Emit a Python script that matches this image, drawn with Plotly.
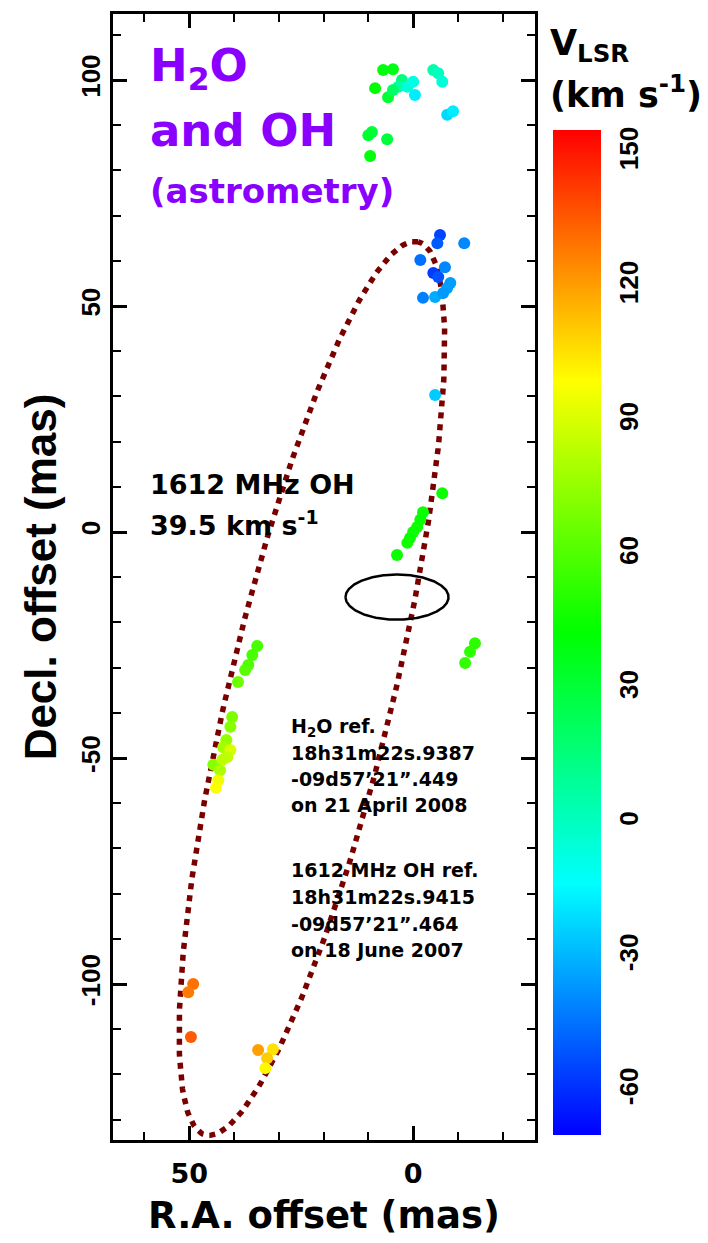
import numpy as np
import plotly.graph_objects as go

# ---------------- data ----------------
# R.A. offset (mas), Decl. offset (mas), V_LSR (km/s)
north_ra  = [6.7, 4.5, 8.5, 5.6, 2.5, 3.3, 1.3, 0.0, -0.4, 4.5, -4.5, -5.6, -6.5, -7.6, -8.9, 9.2, 10.0, 5.8, 9.6]
north_dec = [102.2, 102.4, 98.2, 96.2, 100.0, 98.5, 98.5, 99.6, 96.7, 97.8, 102.2, 101.5, 99.6, 92.3, 93.1, 88.5, 87.8, 86.9, 83.2]
north_v   = [40, 38, 42, 32, 15, 5, -5, -8, -18, 20, 5, 0, -5, -22, -18, 30, 32, 30, 40]

blue_ra  = [-6.0, -5.4, -11.4, -1.6, -7.1, -4.5, -5.6, -8.3, -7.6, -2.2, -4.9, -6.7, -4.9]
blue_dec = [65.7, 63.9, 63.9, 60.2, 58.6, 57.3, 56.4, 55.1, 54.0, 51.8, 52.0, 52.9, 30.3]
blue_v   = [-55, -50, -40, -45, -40, -57, -52, -35, -35, -42, -32, -36, -25]

mid_ra  = [-6.5, -2.2, -1.6, -0.9, 0.0, 0.7, 1.3, 3.6, -13.8, -12.7, -11.6]
mid_dec = [8.6, 4.4, 2.7, 1.1, 0.0, -1.3, -2.4, -5.1, -24.6, -26.5, -29.0]
mid_v   = [45, 45, 44, 46, 45, 44, 46, 45, 52, 52, 54]

sw_ra  = [34.8, 35.9, 36.8, 37.5, 39.1, 40.4, 40.8, 41.7, 42.4, 40.8, 41.5, 44.6, 43.1, 42.6, 43.5, 44.0]
sw_dec = [-25.2, -27.2, -29.4, -30.5, -33.2, -40.9, -43.1, -46.0, -47.6, -48.2, -49.8, -51.5, -52.7, -50.4, -54.9, -56.6]
sw_v   = [58, 58, 60, 62, 66, 70, 72, 75, 78, 90, 85, 72, 80, 84, 95, 98]

south_ra  = [49.1, 50.2, 49.6, 34.6, 31.3, 32.6, 33.0]
south_dec = [-100.0, -101.8, -111.7, -114.6, -114.4, -116.4, -118.6]
south_v   = [130, 128, 135, 120, 105, 110, 100]

# outer dotted ellipse: centre, semi-axes, position angle (deg)
ellipse_centre = [22.6, -34.6]
ellipse_axes = [101.6, 18.3]
ellipse_pa = -13.5
# beam ellipse: centre, half-widths
beam_centre = [3.6, -14.4]
beam_half = [11.5, 5.0]

x_range = [67.0, -27.2]
y_range = [-134.5, 114.6]
c_range = [-70, 155]
x_ticks = [50, 0]
x_ticklabels = ["50", "0"]
y_ticks = [-100, -50, 0, 50, 100]
y_ticklabels = ["-100", "-50", "0", "50", "100"]
cbar_ticks = [-60, -30, 0, 30, 60, 90, 120, 150]
cbar_ticklabels = ["-60", "-30", "0", "30", "60", "90", "120", "150"]

ref_lines = ["H<sub>2</sub>O ref.", "18h31m22s.9387", "-09d57\u201921\u201d.449", "on 21 April 2008",
             "1612 MHz OH ref.", "18h31m22s.9415", "-09d57\u201921\u201d.464", "on 18 June 2007"]

# ---------------- figure ----------------
W, H = 708, 1243
L, R, T, B = 113, 535, 14, 1140

def px(xp):
    return (xp - L) / (R - L)

def py(yp):
    return (B - yp) / (B - T)

ra = north_ra + blue_ra + mid_ra + sw_ra + south_ra
dec = north_dec + blue_dec + mid_dec + sw_dec + south_dec
vel = north_v + blue_v + mid_v + sw_v + south_v

cscale = [[0.0, "rgb(0,0,255)"], [0.25, "rgb(0,255,255)"], [0.5, "rgb(0,255,0)"],
          [0.75, "rgb(255,255,0)"], [1.0, "rgb(255,0,0)"]]

fig = go.Figure()

# dotted ellipse
t = np.linspace(0, 2 * np.pi, 400)
pa = np.deg2rad(ellipse_pa)
a, b = ellipse_axes
ex = ellipse_centre[0] + a * np.cos(t) * np.sin(pa) + b * np.sin(t) * np.cos(pa)
ey = ellipse_centre[1] + a * np.cos(t) * np.cos(pa) - b * np.sin(t) * np.sin(pa)
fig.add_trace(go.Scatter(x=ex, y=ey, mode="lines",
                         line=dict(color="#7a0000", width=5.5, dash="6px,6px"),
                         hoverinfo="skip", showlegend=False))

# beam ellipse
fig.add_trace(go.Scatter(
    x=beam_centre[0] + beam_half[0] * np.cos(t),
    y=beam_centre[1] + beam_half[1] * np.sin(t),
    mode="lines", line=dict(color="black", width=2.5), hoverinfo="skip", showlegend=False))

fig.add_trace(go.Scatter(
    x=ra, y=dec, mode="markers",
    marker=dict(size=12, color=vel, colorscale=cscale, cmin=c_range[0], cmax=c_range[1],
                line=dict(width=0),
                colorbar=dict(thickness=48, lenmode="pixels", len=1005,
                              x=px(553), xanchor="left", y=py(632.5), yanchor="middle",
                              outlinewidth=0, xpad=0, ypad=0,
                              tickvals=cbar_ticks, ticktext=cbar_ticklabels,
                              ticks="outside", ticklen=6, tickcolor="rgba(0,0,0,0)", tickangle=-90,
                              tickfont=dict(family="Liberation Sans, Arial", size=26, color="black", weight="bold"))),
    showlegend=False))

axis_common = dict(showgrid=False, zeroline=False, showline=True, linecolor="black", linewidth=3,
                   mirror="ticks", ticks="inside", ticklen=14, tickwidth=2.5, tickcolor="black",
                   minor=dict(ticks="inside", ticklen=8, tickwidth=2, tickcolor="black", dtick=10))

fig.update_xaxes(range=x_range, tickvals=x_ticks, ticktext=x_ticklabels, **axis_common,
                 ticklabelstandoff=8,
                 tickfont=dict(family="DejaVu Sans", size=27, color="black", weight="bold"),
                 title=dict(text="R.A. offset (mas)", standoff=14,
                            font=dict(family="DejaVu Sans", size=37, color="black", weight="bold")))
fig.update_yaxes(range=y_range, tickvals=y_ticks, ticktext=y_ticklabels, tickangle=-90, **axis_common,
                 tickfont=dict(family="Liberation Sans, Arial", size=26, color="black", weight="bold"),
                 title=dict(text="Decl. offset (mas)", standoff=6,
                            font=dict(family="Liberation Sans, Arial", size=44, color="black", weight="bold")))

purple = "#8a00ff"
ann = []
def add_text(text, xp, yp, size, color="black", family="DejaVu Sans", xanchor="left"):
    ann.append(dict(text=text, x=px(xp), y=py(yp), xref="paper", yref="paper",
                    xanchor=xanchor, yanchor="middle", showarrow=False,
                    font=dict(family=family, size=size, color=color, weight="bold")))

add_text("H<sub>2</sub>O", 148, 68, 45, purple)
add_text("and OH", 148, 130, 45, purple)
add_text("(astrometry)", 148, 191, 34, purple)
add_text("1612 MHz OH", 148, 485, 27)
add_text("39.5 km s<sup>-1</sup>", 148, 523, 27)
ref_y = [727, 753, 779, 805, 870, 897, 924, 950]
for line, yy in zip(ref_lines, ref_y):
    add_text(line, 289, yy, 19)
add_text("V<sub>LSR</sub>", 548, 45, 35)
add_text("(km s<sup>-1</sup>)", 548, 92, 35)

fig.update_layout(width=W, height=H, margin=dict(l=L, r=W - R, t=T, b=H - B),
                  paper_bgcolor="white", plot_bgcolor="white", annotations=ann,
                  showlegend=False)

fig.write_html("out.html")
